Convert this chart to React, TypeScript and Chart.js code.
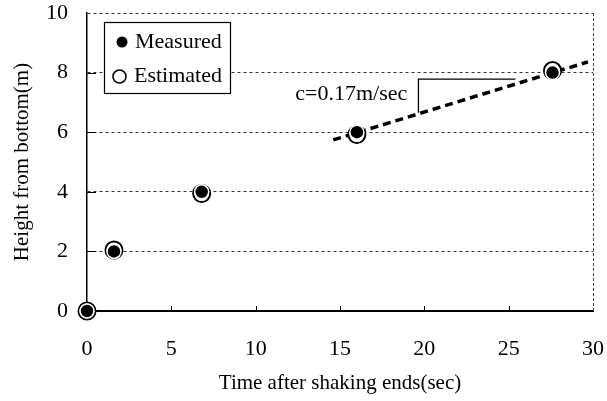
import React, { useEffect, useRef } from "react";
import { Chart, registerables } from "chart.js";

Chart.register(...registerables);

const FONT = '"Liberation Serif", "Times New Roman", serif';

// Data
const measuredX = [0, 1.6, 6.8, 16.0, 27.6];
const measuredY = [0, 2.0, 4.0, 6.0, 8.0];
const estimatedX = [0, 1.6, 6.8, 16.0, 27.6];
const estimatedY = [0, 2.05, 3.94, 5.92, 8.07];
const fitX = [14.6, 29.7];
const fitY = [5.74, 8.36];
const slopeX = [19.65, 19.65, 25.4];
const slopeY = [6.65, 7.78, 7.78];
const xTicks = [5, 10, 15, 20, 25];
const yTicks = [2, 4, 6, 8];
const slopeLabel = "c=0.17m/sec";
const slopeLabelAt = [12.35, 7.28];
const xTitle = "Time after shaking ends(sec)";
const yTitle = "Height from bottom(m)";

const pts = (xs: number[], ys: number[]) => xs.map((x, i) => ({ x, y: ys[i] }));

const decorPlugin = {
  id: "decor",
  beforeDatasetsDraw(chart: any) {
    const { ctx, chartArea, scales } = chart;
    const xs = scales.x;
    const ys = scales.y;
    ctx.save();
    // right border dashed
    ctx.strokeStyle = "#444";
    ctx.lineWidth = 1;
    ctx.setLineDash([3, 2]);
    ctx.beginPath();
    ctx.moveTo(chartArea.right + 0.5, chartArea.top);
    ctx.lineTo(chartArea.right + 0.5, chartArea.bottom);
    ctx.stroke();
    ctx.setLineDash([]);
    ctx.strokeStyle = "#000";
    // inward x ticks
    xTicks.forEach((v) => {
      const px = Math.round(xs.getPixelForValue(v)) + 0.5;
      ctx.beginPath();
      ctx.moveTo(px, chartArea.bottom);
      ctx.lineTo(px, chartArea.bottom - 5);
      ctx.stroke();
    });
    // inward y ticks
    yTicks.forEach((v) => {
      const py = Math.round(ys.getPixelForValue(v)) + 0.5;
      ctx.beginPath();
      ctx.moveTo(chartArea.left, py);
      ctx.lineTo(chartArea.left + 9, py);
      ctx.stroke();
    });
    ctx.restore();
  },
  afterDatasetsDraw(chart: any) {
    const { ctx, scales } = chart;
    ctx.save();
    ctx.fillStyle = "#000";
    ctx.font = `22px ${FONT}`;
    ctx.textBaseline = "middle";
    ctx.textAlign = "left";
    ctx.fillText(
      slopeLabel,
      scales.x.getPixelForValue(slopeLabelAt[0]),
      scales.y.getPixelForValue(slopeLabelAt[1])
    );
    // legend box
    const bx = 104, by = 22, bw = 126, bh = 71;
    ctx.fillStyle = "#fff";
    ctx.fillRect(bx, by, bw, bh);
    ctx.strokeStyle = "#000";
    ctx.lineWidth = 1.2;
    ctx.strokeRect(bx + 0.5, by + 0.5, bw, bh);
    const ds = chart.data.datasets;
    // Measured
    ctx.fillStyle = "#000";
    ctx.beginPath();
    ctx.arc(122, 42, 5.5, 0, Math.PI * 2);
    ctx.fill();
    ctx.fillText(ds[0].label, 135, 42);
    // Estimated
    ctx.beginPath();
    ctx.lineWidth = 1.6;
    ctx.arc(119.5, 76.5, 6.5, 0, Math.PI * 2);
    ctx.stroke();
    ctx.fillText(ds[1].label, 134, 76);
    ctx.restore();
  },
};

const zeroPad = (s: any) => {
  s.paddingLeft = 0;
  s.paddingRight = 0;
  s.paddingTop = 0;
  s.paddingBottom = 0;
};

export default function App() {
  const ref = useRef<HTMLCanvasElement | null>(null);
  useEffect(() => {
    if (!ref.current) return;
    const chart = new Chart(ref.current, {
      type: "scatter",
      data: {
        datasets: [
          {
            label: "Measured",
            data: pts(measuredX, measuredY),
            pointRadius: 7,
            pointBackgroundColor: "#000",
            pointBorderColor: "#fff",
            pointBorderWidth: 1.5,
            showLine: false,
            clip: false,
            order: 0,
          } as any,
          {
            label: "Estimated",
            data: pts(estimatedX, estimatedY),
            pointRadius: 8.5,
            pointBackgroundColor: "#fff",
            pointBorderColor: "#000",
            pointBorderWidth: 2,
            showLine: false,
            clip: false,
            order: 1,
          } as any,
          {
            label: "fit",
            data: pts(fitX, fitY),
            showLine: true,
            borderColor: "#000",
            borderWidth: 3.5,
            borderDash: [8, 5],
            pointRadius: 0,
            clip: false,
            order: 2,
          } as any,
          {
            label: "slope",
            data: pts(slopeX, slopeY),
            showLine: true,
            borderColor: "#000",
            borderWidth: 1.3,
            pointRadius: 0,
            clip: false,
            order: 3,
          } as any,
        ],
      },
      options: {
        responsive: false,
        animation: false,
        devicePixelRatio: 1,
        layout: { padding: { left: 0, top: 13, right: 14, bottom: 0 } },
        plugins: { legend: { display: false }, tooltip: { enabled: false } },
        scales: {
          x: {
            type: "linear",
            min: 0,
            max: 30,
            ticks: {
              stepSize: 5,
              color: "#000",
              font: { family: FONT, size: 22 },
              padding: 25,
              maxRotation: 0,
            },
            grid: { display: false, drawTicks: false },
            border: { display: true, color: "#000", width: 2 },
            title: {
              display: true,
              text: xTitle,
              color: "#000",
              font: { family: FONT, size: 21 },
              padding: { top: 0, bottom: 5 },
            },
            afterFit: (s: any) => {
              s.height = 90;
              zeroPad(s);
            },
          },
          y: {
            type: "linear",
            min: 0,
            max: 10,
            ticks: {
              stepSize: 2,
              color: "#000",
              font: { family: FONT, size: 22 },
              padding: 19,
            },
            grid: {
              drawTicks: false,
              color: (c: any) => (c.tick && c.tick.value === 0 ? "rgba(0,0,0,0)" : "#333"),
              lineWidth: 1,
            },
            border: { display: true, color: "#000", width: 1.5, dash: [3, 3] },
            title: {
              display: true,
              text: yTitle,
              color: "#000",
              font: { family: FONT, size: 21 },
              padding: { top: 10, bottom: 0 },
            },
            afterFit: (s: any) => {
              s.width = 87;
              zeroPad(s);
            },
          },
        },
      } as any,
      plugins: [decorPlugin],
    });
    return () => chart.destroy();
  }, []);
  return (
    <div style={{ position: "fixed", left: 0, top: 0, width: 607, height: 401, background: "#fff" }}>
      <canvas ref={ref} width={607} height={401} style={{ display: "block" }} />
    </div>
  );
}
